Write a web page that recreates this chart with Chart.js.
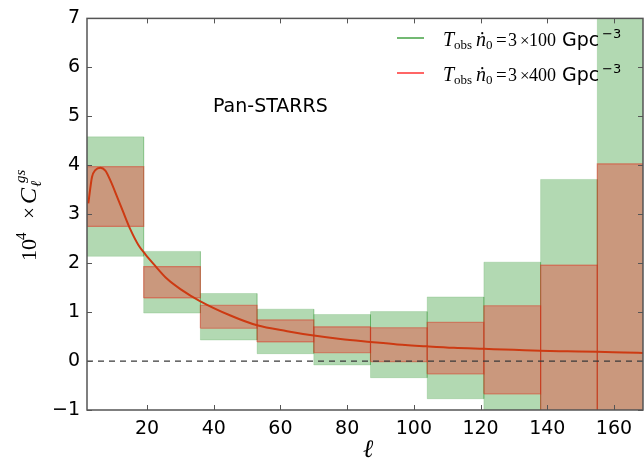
<!DOCTYPE html>
<html>
<head>
<meta charset="utf-8">
<script src="https://cdn.jsdelivr.net/npm/chart.js@4.4.1/dist/chart.umd.min.js"></script>
<style>
html, body { margin: 0; padding: 0; background: #fff; }
#wrap { width: 644px; height: 464px; }
</style>
</head>
<body>
<div id="wrap"><canvas id="myChart" width="644" height="464"></canvas></div>
<script>
// bins in ell, edges shared by neighbouring boxes
const binEdges = [2, 19, 36, 53, 70, 87, 104, 121, 138, 155, 172]
// green boxes: T_obs n0 = 3 x 100 Gpc^-3
const greenLow  = [2.14, 0.98, 0.43, 0.15, -0.08, -0.34, -0.77, -1.57, -3.29, -7.5]
const greenHigh = [4.58, 2.24, 1.38, 1.06, 0.95, 1.01, 1.31, 2.02, 3.71, 7.87]
// red boxes: T_obs n0 = 3 x 400 Gpc^-3
const redLow  = [2.75, 1.29, 0.67, 0.39, 0.17, -0.01, -0.26, -0.67, -1.54, -3.67]
const redHigh = [3.97, 1.93, 1.14, 0.84, 0.70, 0.68, 0.79, 1.13, 1.96, 4.03]
// theory curve
const curveL = [2.4, 3.5, 4.5, 6, 7.5, 9, 11, 13, 15, 17.5, 19.5, 22, 26, 30, 36, 45, 53, 62, 70, 78, 87, 95, 104, 112, 121, 130, 138, 146, 155, 163, 169]
const curveY = [3.22, 3.76, 3.9, 3.95, 3.89, 3.69, 3.36, 3.02, 2.69, 2.36, 2.18, 1.98, 1.68, 1.47, 1.22, 0.93, 0.73, 0.61, 0.52, 0.45, 0.39, 0.34, 0.30, 0.27, 0.25, 0.23, 0.21, 0.20, 0.19, 0.175, 0.165]

const xTicks = [20, 40, 60, 80, 100, 120, 140, 160]
const yTicks = [-1, 0, 1, 2, 3, 4, 5, 6, 7]
const xMin = 2, xMax = 168.7

const serif = '"Liberation Serif", "DejaVu Serif", serif'
const sans = '"DejaVu Sans", sans-serif'

Chart.defaults.font.family = sans

const box = (i, lo, hi) => [
    {x: binEdges[i], y: lo[i]},
    {x: binEdges[i], y: hi[i]},
    {x: binEdges[i + 1], y: hi[i]},
    {x: binEdges[i + 1], y: lo[i]},
    {x: binEdges[i], y: lo[i]}
]

const datasets = []
for (let i = 0; i < binEdges.length - 1; i++) {
    datasets.push({
        data: box(i, greenLow, greenHigh),
        fill: 'shape',
        backgroundColor: 'rgba(0,128,0,0.3)',
        borderColor: 'rgba(0,128,0,0.15)',
        borderWidth: 1,
        pointRadius: 0,
        tension: 0,
        order: 4
    })
}
for (let i = 0; i < binEdges.length - 1; i++) {
    datasets.push({
        data: box(i, redLow, redHigh),
        fill: 'shape',
        backgroundColor: 'rgba(255,0,0,0.3)',
        borderColor: 'rgba(220,40,20,0.45)',
        borderWidth: 1.2,
        pointRadius: 0,
        tension: 0,
        order: 3
    })
}
datasets.push({
    data: [{x: xMin, y: 0}, {x: xMax, y: 0}],
    borderColor: '#3a3a3a',
    borderWidth: 1.3,
    borderDash: [6, 5],
    pointRadius: 0,
    fill: false,
    order: 2
})
datasets.push({
    data: curveL.map((l, i) => ({x: l, y: curveY[i]})),
    borderColor: 'rgb(205,58,18)',
    borderWidth: 2,
    pointRadius: 0,
    fill: false,
    cubicInterpolationMode: 'monotone',
    order: 1
})

// rich text helper: runs of {t, font, x, dy}
function drawRuns(c, x0, y0, runs) {
    runs.forEach(r => {
        c.font = r.font
        c.fillText(r.t, x0 + r.x, y0 + (r.dy || 0))
    })
}

const decor = {
    id: 'decor',
    afterDraw(chart) {
        const c = chart.ctx
        const a = chart.chartArea
        const xs = chart.scales.x
        const ys = chart.scales.y
        c.save()

        // inward ticks on all four sides
        c.strokeStyle = '#555'
        c.lineWidth = 1
        c.beginPath()
        xTicks.forEach(v => {
            const px = Math.round(xs.getPixelForValue(v)) + 0.5
            c.moveTo(px, a.bottom); c.lineTo(px, a.bottom - 5)
            c.moveTo(px, a.top); c.lineTo(px, a.top + 5)
        })
        yTicks.forEach(v => {
            const py = Math.round(ys.getPixelForValue(v)) + 0.5
            c.moveTo(a.left, py); c.lineTo(a.left + 5, py)
            c.moveTo(a.right, py); c.lineTo(a.right - 5, py)
        })
        c.stroke()

        // frame
        c.lineWidth = 1.5
        c.strokeStyle = '#555'
        c.strokeRect(a.left, a.top, a.right - a.left, a.bottom - a.top)

        c.fillStyle = '#000'
        c.textAlign = 'left'
        c.textBaseline = 'alphabetic'

        // survey name
        c.font = '19px ' + sans
        c.fillText('Pan-STARRS', 213, 112)

        // legend
        const rows = [
            {y: 46, color: 'rgba(0,128,0,0.55)', n: '100'},
            {y: 81, color: 'rgba(255,0,0,0.6)', n: '400'}
        ]
        rows.forEach(r => {
            c.strokeStyle = r.color
            c.lineWidth = 2
            c.beginPath()
            c.moveTo(397, r.y - 8)
            c.lineTo(424, r.y - 8)
            c.stroke()
            drawRuns(c, 443, r.y, [
                {t: 'T', font: 'italic 20px ' + serif, x: 0},
                {t: 'obs', font: '13px ' + serif, x: 11, dy: 3},
                {t: '\u1E45', font: 'italic 20px ' + serif, x: 33},
                {t: '0', font: '13px ' + serif, x: 43, dy: 3},
                {t: '=', font: '19px ' + serif, x: 53},
                {t: '3', font: '18px ' + serif, x: 65},
                {t: '\u00D7', font: '17px ' + serif, x: 77},
                {t: r.n, font: '18px ' + serif, x: 86},
                {t: 'Gpc', font: '19px ' + sans, x: 119},
                {t: '\u22123', font: '13px ' + sans, x: 159, dy: -8}
            ])
        })

        // y axis title, rotated
        c.save()
        c.translate(36, 261)
        c.rotate(-Math.PI / 2)
        drawRuns(c, 0, 0, [
            {t: '10', font: '22px ' + serif, x: 0},
            {t: '4', font: '15px ' + serif, x: 21, dy: -10},
            {t: '\u00D7', font: '21px ' + serif, x: 42},
            {t: 'C', font: 'italic 24px ' + serif, x: 57},
            {t: '\u2113', font: 'italic 15px ' + serif, x: 74, dy: 5},
            {t: 'gs', font: 'italic 15px ' + serif, x: 78, dy: -11}
        ])
        c.restore()

        // x axis title
        c.font = 'italic 25px ' + serif
        c.textAlign = 'center'
        c.fillText('\u2113', (a.left + a.right) / 2 + 3, 457)

        c.restore()
    }
}

const config = {
    type: 'line',
    data: {datasets: datasets},
    options: {
        responsive: false,
        animation: false,
        devicePixelRatio: 1,
        layout: {padding: {top: 12, right: 1, left: 0, bottom: 0}},
        plugins: {
            legend: {display: false},
            tooltip: {enabled: false}
        },
        scales: {
            x: {
                type: 'linear',
                min: xMin,
                max: xMax,
                grid: {display: false, drawTicks: false},
                border: {display: false},
                ticks: {color: '#000', font: {size: 19}, padding: 8},
                afterBuildTicks: s => { s.ticks = xTicks.map(v => ({value: v})) },
                afterFit: s => { s.height = 54 }
            },
            y: {
                type: 'linear',
                min: -1,
                max: 7,
                grid: {display: false, drawTicks: false},
                border: {display: false},
                ticks: {
                    color: '#000',
                    font: {size: 19},
                    padding: 7,
                    callback: v => v < 0 ? '\u2212' + Math.abs(v) : String(v)
                },
                afterBuildTicks: s => { s.ticks = yTicks.map(v => ({value: v})) },
                afterFit: s => { s.height = undefined; s.width = 87 }
            }
        }
    },
    plugins: [decor]
}

const myChart = new Chart(document.getElementById('myChart'), config)
</script>
</body>
</html>
